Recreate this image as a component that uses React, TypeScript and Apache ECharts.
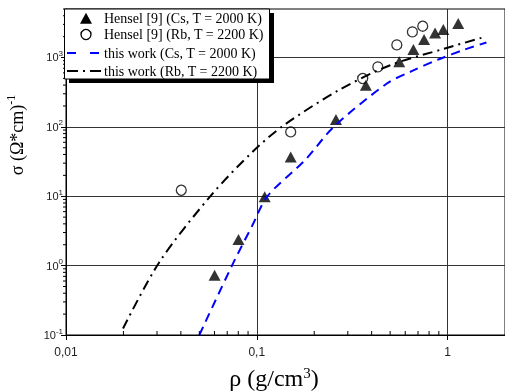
import React, { useEffect, useRef } from 'react';
import * as echarts from 'echarts';

// Hensel [9] experimental points
const csRho = [0.0601, 0.0802, 0.110, 0.1506, 0.260, 0.373, 0.558, 0.662, 0.753, 0.860, 0.950, 1.137];
const csSigma = [0.726, 2.38, 9.8, 36.9, 127.6, 399, 869, 1304, 1818, 2263, 2535, 3093];
const rbRho = [0.0402, 0.1506, 0.359, 0.431, 0.542, 0.654, 0.741];
const rbSigma = [12.2, 84.6, 498, 732, 1520, 2339, 2827];

// this work curves
const csModelRho = [0.05, 0.0741, 0.0949, 0.1137, 0.1788, 0.2533, 0.481, 0.649, 0.894, 1.232, 1.598];
const csModelSigma = [0.1, 1.0, 3.82, 10, 33, 100, 422, 635, 936, 1305, 1645];
const rbModelRho = [0.0199, 0.0309, 0.0576, 0.0969, 0.139, 0.269, 0.5006, 0.969, 1.505];
const rbModelSigma = [0.124, 1.13, 10.3, 46, 106, 338, 774, 1349, 1917];

// axes
const xTickValues = [0.01, 0.1, 1];
const yTickValues = [0.1, 1, 10, 100, 1000];
const xMinorTicks = [0.02, 0.03, 0.04, 0.05, 0.06, 0.07, 0.08, 0.09, 0.2, 0.3, 0.4, 0.5, 0.6, 0.7, 0.8, 0.9];
const yMinorTicks = [
  0.2, 0.3, 0.4, 0.5, 0.6, 0.7, 0.8, 0.9,
  2, 3, 4, 5, 6, 7, 8, 9,
  20, 30, 40, 50, 60, 70, 80, 90,
  200, 300, 400, 500, 600, 700, 800, 900,
  2000, 3000, 4000, 5000,
];

const legendLabels = [
  'Hensel [9] (Cs, T = 2000 K)',
  'Hensel [9] (Rb, T = 2200 K)',
  'this work (Cs, T = 2000 K)',
  'this work (Rb, T = 2200 K)',
];

const SERIF = '"Liberation Serif", "Times New Roman", serif';
const SANS = '"Liberation Sans", Arial, sans-serif';
const BLUE = '#0000ff';

export default function App() {
  const ref = useRef<HTMLDivElement>(null);

  useEffect(() => {
    if (!ref.current) return;
    const chart = echarts.init(ref.current, null, { renderer: 'svg' });
    const zip = (a: number[], b: number[]) => a.map((v, i) => [v, b[i]]);
    const supFmt = (v: number) => {
      const e = Math.log10(v);
      const r = Math.round(e);
      if (Math.abs(e - r) > 1e-6) return '';
      return `{b|10}{s|${r}}`;
    };
    const tickSeries = (values: number[], horizontal: boolean) => ({
      type: 'custom',
      silent: true,
      clip: false,
      z: 5,
      data: values.map((v) => (horizontal ? [v, 0.1] : [0.01, v])),
      renderItem: (_p: any, api: any) => {
        const p = api.coord([api.value(0), api.value(1)]);
        return {
          type: 'line',
          shape: horizontal
            ? { x1: p[0], y1: p[1], x2: p[0], y2: p[1] - 4 }
            : { x1: p[0], y1: p[1], x2: p[0] - 3, y2: p[1] },
          style: { stroke: '#000', lineWidth: 1 },
        };
      },
    });

    const rowY = [18.3, 34.5, 53, 71];
    const legendX = 104;

    chart.setOption({
      animation: false,
      grid: {
        left: 66, right: -2, top: 9, bottom: 56,
        show: true, borderColor: '#000', borderWidth: 1,
      },
      xAxis: {
        type: 'log', min: 0.01, max: 2,
        axisLine: { lineStyle: { color: '#000', width: 1 } },
        axisTick: { length: 5, lineStyle: { color: '#000' }, customValues: xTickValues },
        axisLabel: {
          customValues: xTickValues,
          formatter: (v: number) => String(v).replace('.', ','),
          margin: 11, fontFamily: SANS, fontSize: 12, color: '#222',
        },
        splitLine: { show: true, lineStyle: { color: '#333', width: 1 } },
      },
      yAxis: {
        type: 'log', min: 0.1, max: 5000,
        axisLine: { lineStyle: { color: '#000', width: 1 } },
        axisTick: { length: 5, lineStyle: { color: '#000' }, customValues: yTickValues },
        axisLabel: {
          customValues: yTickValues,
          formatter: supFmt,
          margin: 3,
          rich: {
            b: { fontSize: 11, fontFamily: SANS, color: '#222', lineHeight: 16 },
            s: { fontSize: 8, fontFamily: SANS, color: '#222', verticalAlign: 'top', lineHeight: 8 },
          },
        },
        splitLine: { show: true, lineStyle: { color: '#333', width: 1 } },
      },
      series: [
        {
          name: legendLabels[0], type: 'scatter', data: zip(csRho, csSigma),
          symbol: 'triangle', symbolSize: [12, 11], itemStyle: { color: '#000' }, z: 3,
        },
        {
          name: legendLabels[1], type: 'scatter', data: zip(rbRho, rbSigma),
          symbol: 'circle', symbolSize: 10,
          itemStyle: { color: 'rgba(0,0,0,0)', borderColor: '#000', borderWidth: 1.3 }, z: 3,
        },
        {
          name: legendLabels[2], type: 'line', data: zip(csModelRho, csModelSigma),
          symbol: 'none', smooth: 0.3,
          lineStyle: { color: BLUE, width: 2, type: [9, 6] }, z: 4,
        },
        {
          name: legendLabels[3], type: 'line', data: zip(rbModelRho, rbModelSigma),
          symbol: 'none', smooth: 0.3,
          lineStyle: { color: '#000', width: 2, type: [10, 5, 2, 5] }, z: 4,
        },
        tickSeries(xMinorTicks, true),
        tickSeries(yMinorTicks, false),
      ],
      graphic: [
        // legend shadow and box
        { type: 'rect', z: 100, shape: { x: 69, y: 13, width: 205, height: 70 }, style: { fill: '#000' } },
        { type: 'rect', z: 101, shape: { x: 64.5, y: 9, width: 205, height: 70 }, style: { fill: '#fff', stroke: '#000', lineWidth: 1 } },
        { type: 'polygon', z: 102, shape: { points: [[80, 23.8], [92, 23.8], [86, 12.8]] }, style: { fill: '#000' } },
        { type: 'circle', z: 102, shape: { cx: 86, cy: rowY[1], r: 5 }, style: { fill: 'none', stroke: '#000', lineWidth: 1.3 } },
        { type: 'line', z: 102, shape: { x1: 67, y1: rowY[2], x2: 102, y2: rowY[2] }, style: { stroke: BLUE, lineWidth: 2, lineDash: [9, 14] } },
        { type: 'line', z: 102, shape: { x1: 67, y1: rowY[3], x2: 102, y2: rowY[3] }, style: { stroke: '#000', lineWidth: 2, lineDash: [11, 5, 2, 5] } },
        ...legendLabels.map((t, i) => ({
          type: 'text', z: 103, x: legendX, y: rowY[i],
          style: { text: t, fontFamily: SERIF, fontSize: 14, fill: '#000', align: 'left', verticalAlign: 'middle' },
        })),
        // axis titles
        {
          type: 'text', x: 17, y: 135, rotation: Math.PI / 2, z: 50,
          style: {
            text: '{a|σ (Ω*cm)}{s|-1}', align: 'center', verticalAlign: 'middle',
            rich: {
              a: { fontFamily: SERIF, fontSize: 18, fill: '#000', lineHeight: 24 },
              s: { fontFamily: SERIF, fontSize: 12, fill: '#000', verticalAlign: 'top', lineHeight: 12 },
            },
          },
        },
        {
          type: 'text', x: 274, y: 378, z: 50,
          style: {
            text: '{a|ρ (g/cm}{s|3}{a|)}', align: 'center', verticalAlign: 'middle',
            rich: {
              a: { fontFamily: SERIF, fontSize: 24, fill: '#000', lineHeight: 26 },
              s: { fontFamily: SERIF, fontSize: 15, fill: '#000', verticalAlign: 'top', lineHeight: 14 },
            },
          },
        },
      ],
    });
    return () => chart.dispose();
  }, []);

  return <div ref={ref} style={{ position: 'fixed', left: 0, top: 0, width: 505, height: 391 }} />;
}
